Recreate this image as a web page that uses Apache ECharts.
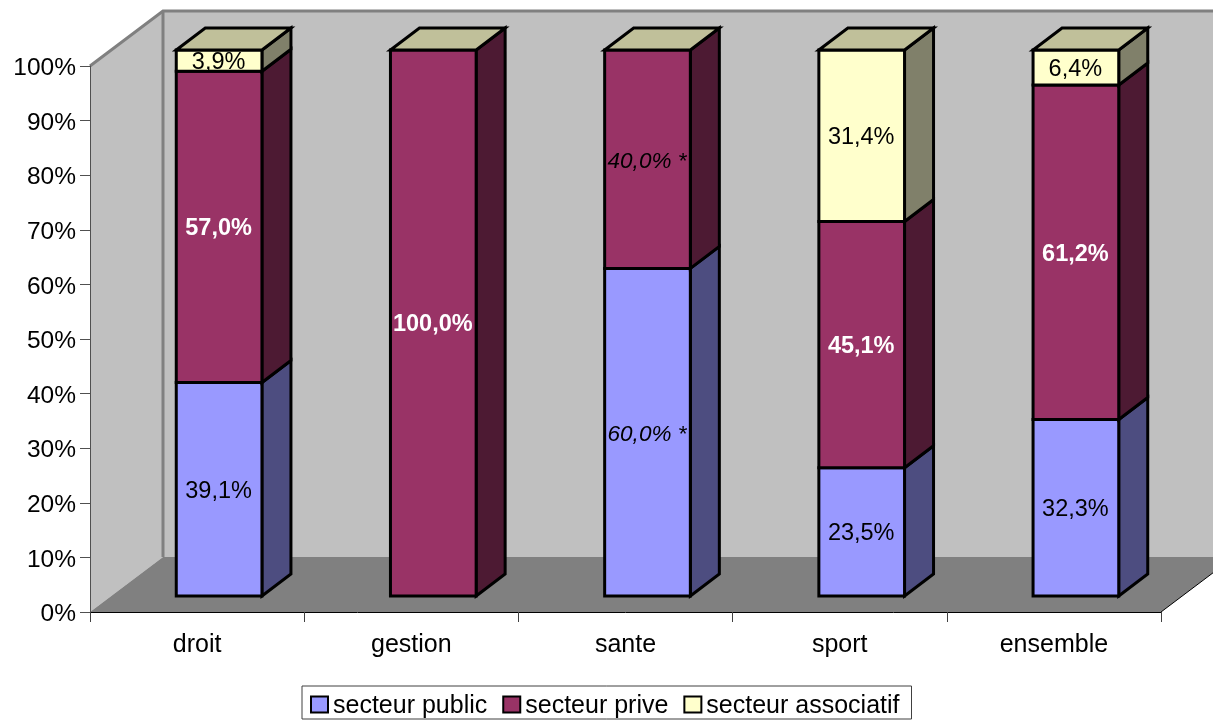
<!DOCTYPE html>
<html><head><meta charset="utf-8">
<style>html,body{margin:0;padding:0;background:#fff}#c{width:1213px;height:720px}</style>
<script src="https://cdn.jsdelivr.net/npm/echarts@6/dist/echarts.min.js"></script>
</head><body><div id="c"></div>
<script>
const categories = ['droit','gestion','sante','sport','ensemble'];
const seriesNames = ['secteur public','secteur prive','secteur associatif'];
const publicValues = [39.1,0,60.0,23.5,32.3];
const priveValues = [57.0,100.0,40.0,45.1,61.2];
const associatifValues = [3.9,0,0,31.4,6.4];
const estimated = [false,false,true,false,false];
const FONT = '"Liberation Sans", Arial, sans-serif';
const FS = 23.5;
const WALL = [73,-55], BAR_OFF = [22,-16], BAR_DEPTH = [29,-22], BAR_FRAC = 0.4;
const stacks = [publicValues, priveValues, associatifValues];
const fills = ['#9999FF','#993366','#FFFFCC'];
const sides = ['#4D4D80','#4D1A33','#80806A'];
const TOP = '#C0C09A';
const fmt = v => v.toFixed(1).replace('.',',') + '%';

function segRender(si){
  return function(params, api){
    const i = api.value(0), base = api.value(1), end = api.value(2), val = api.value(3);
    const p0 = api.coord([i, base]), p1 = api.coord([i, end]);
    const w = api.size([1,0])[0]*BAR_FRAC;
    const L = p0[0]-w/2+BAR_OFF[0], R = L+w, B = p0[1]+BAR_OFF[1], T = p1[1]+BAR_OFF[1];
    const dx = BAR_DEPTH[0], dy = BAR_DEPTH[1];
    const line = {stroke:'#000', lineWidth:3, lineJoin:'miter'};
    const ch = [];
    if (end > base) {
      ch.push({type:'polygon',shape:{points:[[R,B],[R+dx,B+dy],[R+dx,T+dy],[R,T]]},style:Object.assign({fill:sides[si]},line)});
      ch.push({type:'rect',shape:{x:L,y:T,width:w,height:B-T},style:Object.assign({fill:fills[si]},line)});
    }
    if (si === 2) {
      ch.push({type:'polygon',shape:{points:[[L,T],[L+dx,T+dy],[R+dx,T+dy],[R,T]]},style:Object.assign({fill:TOP},line)});
    }
    if (val > 0) {
      const est = estimated[i], bold = si === 1 && !est;
      ch.push({type:'text',style:{
        x:(L+R)/2-0.5, y:(T+B)/2+(est?3:2),
        text: fmt(val)+(est?' *':''),
        align:'center', verticalAlign:'middle',
        fill: bold?'#fff':'#000',
        font:(est?'italic ':'')+(bold?'bold ':'')+(est?22.5:FS)+'px '+FONT
      },z2:10});
    }
    return {type:'group',children:ch};
  };
}
function wallRender(params, api){
  const c = params.coordSys, x=c.x, y=c.y, h=c.height, W=c.width, dx=WALL[0], dy=WALL[1];
  const g = '#808080';
  return {type:'group',children:[
    {type:'rect',shape:{x:x+dx,y:y+dy,width:W,height:h},style:{fill:'#C0C0C0'}},
    {type:'polygon',shape:{points:[[x,y+h],[x,y],[x+dx,y+dy],[x+dx,y+h+dy]]},style:{fill:'#C0C0C0'}},
    {type:'polygon',shape:{points:[[x,y+h],[x+dx,y+h+dy],[x+W+dx,y+h+dy],[x+W,y+h]]},style:{fill:g}},
    {type:'polyline',shape:{points:[[x,y],[x+dx,y+dy],[x+W+dx,y+dy]]},style:{fill:null,stroke:g,lineWidth:3}},
    {type:'line',shape:{x1:x+dx,y1:y+dy,x2:x+dx,y2:y+h+dy},style:{stroke:g,lineWidth:3}},
    {type:'line',shape:{x1:x+W,y1:y+h,x2:x+W+dx,y2:y+h+dy},style:{stroke:'#000',lineWidth:1}}
  ]};
}
const totals = categories.map((_,i)=>stacks.reduce((a,s)=>a+s[i],0));
function segData(si){
  return categories.map((_,i)=>{
    let b=0; for(let k=0;k<si;k++) b+=stacks[k][i];
    return [i, b/totals[i]*100, (b+stacks[si][i])/totals[i]*100, stacks[si][i]];
  });
}
const series = [{type:'custom',name:'walls',z:1,silent:true,renderItem:wallRender,data:[[0,0]],encode:{x:0,y:1}}];
seriesNames.forEach((n,si)=>series.push({
  type:'custom',name:n,z:3+si,renderItem:segRender(si),data:segData(si),
  encode:{x:0,y:[1,2]},itemStyle:{color:fills[si]}
}));
const chart = echarts.init(document.getElementById('c'),null,{renderer:'canvas'});
chart.setOption({
  animation:false,
  backgroundColor:'#fff',
  textStyle:{fontFamily:FONT},
  grid:{left:90,top:66,width:1071,height:546,containLabel:false},
  xAxis:{type:'category',data:categories,z:6,
    axisLine:{onZero:false,lineStyle:{color:'#000',width:1}},
    axisTick:{show:true,length:10,alignWithLabel:false,interval:0,lineStyle:{color:'#404040',width:1}},
    axisLabel:{fontFamily:FONT,fontSize:25,color:'#000',margin:21,interval:0},splitLine:{show:false}},
  yAxis:{type:'value',min:0,max:100,interval:10,z:6,
    axisLine:{show:true,lineStyle:{color:'#505050',width:1}},
    axisTick:{show:true,length:10,lineStyle:{color:'#505050',width:1}},
    axisLabel:{margin:14,formatter:'{t|{value}%}',
      rich:{t:{fontFamily:FONT,fontSize:24.5,color:'#000',padding:[5,0,0,0]}}},splitLine:{show:false}},
  legend:{data:seriesNames,left:302,top:686,orient:'horizontal',itemWidth:17,itemHeight:16,itemGap:15,
    padding:[8,12,0,8],borderColor:'#404040',borderWidth:1,backgroundColor:'#fff',icon:'rect',
    itemStyle:{borderColor:'#000',borderWidth:2},
    formatter:n=>'{t|'+n+'}',
    textStyle:{fontFamily:FONT,fontSize:25,color:'#000',
      rich:{t:{fontFamily:FONT,fontSize:25,color:'#000',padding:[4,0,0,0]}}},selectedMode:false},
  series
});
</script></body></html>
